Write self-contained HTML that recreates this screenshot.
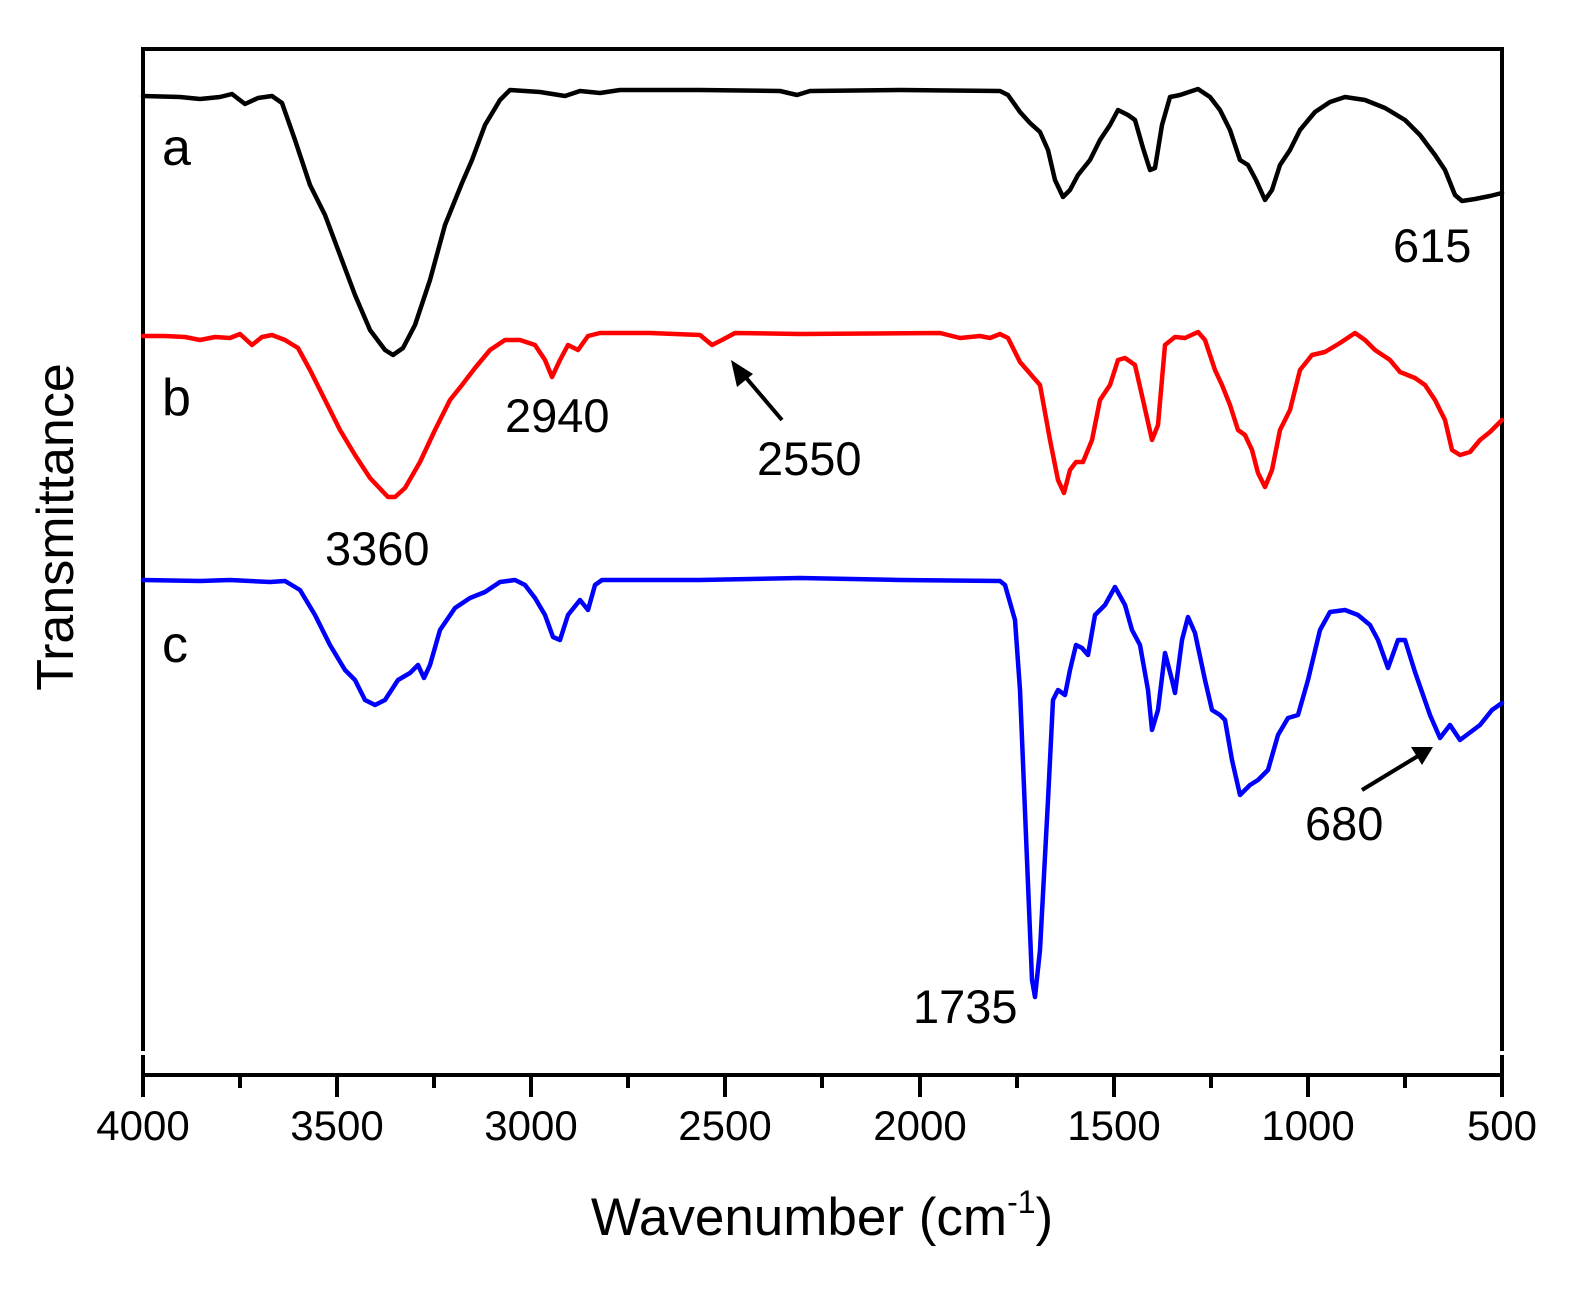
<!DOCTYPE html>
<html><head><style>body{margin:0;background:#fff}</style></head><body>
<svg width="1574" height="1295" xmlns="http://www.w3.org/2000/svg" font-family="Liberation Sans, Arial, sans-serif">
<rect width="1574" height="1295" fill="#fff"/>
<g stroke="#000" stroke-width="4" fill="none">
<line x1="141" y1="49" x2="1504" y2="49"/>
<line x1="143" y1="49" x2="143" y2="1051"/>
<line x1="143" y1="1055" x2="143" y2="1077"/>
<line x1="1502" y1="49" x2="1502" y2="1051"/>
<line x1="1502" y1="1055" x2="1502" y2="1077"/>
<line x1="141" y1="1075" x2="1504" y2="1075"/>
<g stroke-width="4">
<line x1="143" y1="1075" x2="143" y2="1097"/><line x1="337" y1="1075" x2="337" y2="1097"/><line x1="531" y1="1075" x2="531" y2="1097"/><line x1="725" y1="1075" x2="725" y2="1097"/><line x1="920" y1="1075" x2="920" y2="1097"/><line x1="1114" y1="1075" x2="1114" y2="1097"/><line x1="1308" y1="1075" x2="1308" y2="1097"/><line x1="1502" y1="1075" x2="1502" y2="1097"/>
<line x1="240" y1="1075" x2="240" y2="1088"/><line x1="434" y1="1075" x2="434" y2="1088"/><line x1="628" y1="1075" x2="628" y2="1088"/><line x1="822" y1="1075" x2="822" y2="1088"/><line x1="1017" y1="1075" x2="1017" y2="1088"/><line x1="1211" y1="1075" x2="1211" y2="1088"/><line x1="1405" y1="1075" x2="1405" y2="1088"/>
</g>
</g>
<g font-size="42" text-anchor="middle" fill="#000">
<text x="143" y="1140">4000</text><text x="337" y="1140">3500</text><text x="531" y="1140">3000</text><text x="725" y="1140">2500</text><text x="920" y="1140">2000</text><text x="1114" y="1140">1500</text><text x="1308" y="1140">1000</text><text x="1502" y="1140">500</text>
</g>
<text x="822" y="1235" font-size="53" text-anchor="middle">Wavenumber (cm<tspan font-size="32" dy="-22">-1</tspan><tspan dy="22">)</tspan></text>
<text transform="translate(73,527) rotate(-90)" font-size="52" text-anchor="middle">Transmittance</text>
<g fill="none" stroke-width="4.5" stroke-linejoin="round" stroke-linecap="round">
<polyline stroke="#000" points="143,96 180,97 200,99 220,97 232,94 245,104 258,98 272,96 282,103 295,140 310,185 325,215 340,255 355,295 370,330 385,350 393,355 403,348 415,325 430,280 445,225 462,183 472,160 485,125 500,100 510,90 540,92 565,96 580,91 600,93 620,90 700,90 780,91 797,95 810,91 900,90 1000,91 1008,95 1020,112 1030,123 1040,132 1048,150 1055,180 1063,197 1070,190 1078,175 1090,160 1100,140 1110,125 1118,110 1128,115 1135,120 1143,148 1150,170 1155,168 1162,125 1170,97 1180,95 1198,89 1210,97 1220,110 1230,130 1240,160 1248,165 1256,180 1265,200 1272,190 1280,165 1290,150 1300,130 1315,112 1330,102 1345,97 1365,100 1385,108 1405,120 1420,135 1435,155 1445,170 1455,195 1462,201 1475,199 1490,196 1502,193"/>
<polyline stroke="#f00" points="143,336 165,336 185,337 200,340 215,337 230,338 240,334 252,345 262,337 272,335 285,340 298,348 310,370 325,400 340,430 355,455 370,478 388,497 395,497 405,488 420,462 435,430 450,400 462,385 475,368 490,350 505,340 520,340 535,345 545,360 552,377 560,360 568,345 578,350 588,336 600,333 650,333 700,335 712,345 722,340 735,333 800,334 940,333 960,338 980,336 990,338 1000,334 1008,338 1020,362 1040,385 1050,440 1058,480 1064,493 1070,470 1076,462 1083,462 1092,440 1100,400 1110,385 1118,360 1125,358 1135,365 1143,400 1152,440 1158,425 1165,345 1175,337 1185,338 1198,332 1205,340 1215,370 1222,385 1230,405 1238,430 1245,435 1252,450 1258,473 1265,487 1272,470 1280,430 1290,410 1300,370 1312,355 1325,352 1340,343 1355,333 1365,340 1375,350 1390,360 1400,372 1415,378 1425,385 1435,400 1445,420 1452,450 1460,455 1470,452 1480,440 1490,432 1502,420"/>
<polyline stroke="#00f" points="143,580 200,581 230,580 270,582 285,581 300,590 315,615 330,645 345,670 355,680 365,700 375,705 385,700 398,680 410,673 418,665 424,678 430,665 440,630 455,608 470,598 485,592 500,582 515,580 525,585 535,598 545,615 553,637 560,640 568,615 580,600 588,610 595,585 602,580 650,580 700,580 800,578 900,580 1000,581 1005,585 1015,620 1020,690 1027,860 1032,980 1035,997 1040,950 1048,800 1053,700 1058,690 1065,695 1070,670 1076,645 1082,648 1088,655 1095,615 1105,605 1115,587 1125,605 1132,630 1140,645 1148,690 1152,730 1158,710 1165,653 1172,680 1175,693 1182,640 1188,617 1195,633 1205,680 1212,710 1220,715 1225,720 1232,760 1240,795 1250,785 1258,780 1268,770 1278,735 1288,718 1298,715 1308,680 1320,630 1330,612 1345,610 1358,615 1370,625 1378,640 1388,668 1398,640 1405,640 1415,672 1430,715 1440,738 1450,725 1460,740 1480,725 1492,710 1502,703"/>
</g>
<g font-size="52" fill="#000"><text x="162" y="165">a</text><text x="162" y="415">b</text><text x="162" y="662">c</text></g>
<g font-size="47" fill="#000">
<text x="1393" y="262">615</text><text x="505" y="432">2940</text><text x="757" y="475">2550</text><text x="325" y="565">3360</text><text x="913" y="1023">1735</text><text x="1305" y="840">680</text>
</g>
<g stroke="#000" stroke-width="4"><line x1="782" y1="420" x2="742" y2="373"/><line x1="1362" y1="790" x2="1418" y2="756"/></g>
<polygon points="731,360 753,374 737,387" fill="#000"/>
<polygon points="1433,747 1411,747 1422,765" fill="#000"/>
</svg>
</body></html>
